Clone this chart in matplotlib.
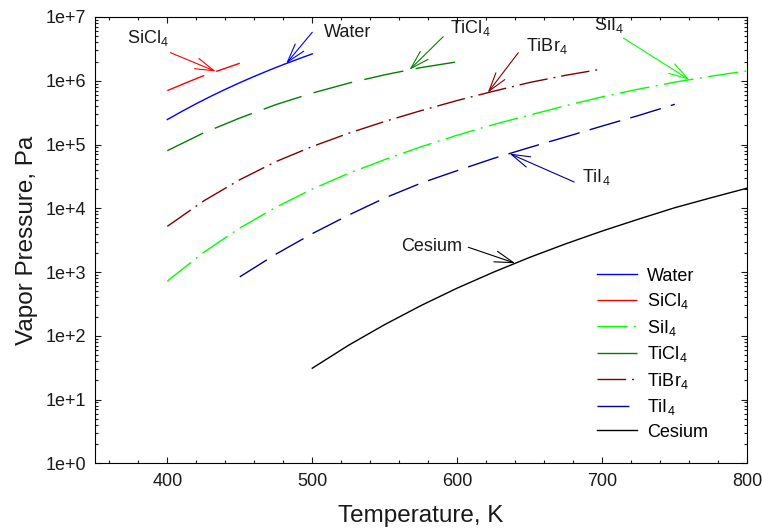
import numpy as np
import matplotlib
matplotlib.use("Agg")
import matplotlib.pyplot as plt
from matplotlib.ticker import MultipleLocator, LogLocator, FuncFormatter, NullFormatter

plt.rcParams['font.family'] = ['Liberation Sans', 'DejaVu Sans']
plt.rcParams['mathtext.fontset'] = 'custom'
plt.rcParams['mathtext.rm'] = 'Liberation Sans'
plt.rcParams['mathtext.default'] = 'regular'

# Vapor pressure curves: temperature in K, pressure in Pa
water_T = [400, 410, 420, 430, 440, 450, 460, 470, 480, 490, 500]
water_P = [2.46e5, 3.30e5, 4.37e5, 5.70e5, 7.33e5, 9.32e5, 1.17e6, 1.455e6,
           1.79e6, 2.18e6, 2.64e6]

sicl4_T = [400, 412.5, 425, 437.5, 450]
sicl4_P = [7.0e5, 9.2e5, 1.2e6, 1.5e6, 1.88e6]

sii4_T = [400, 425, 450, 475, 500, 525, 550, 575, 600, 625, 650, 675, 700,
          725, 750, 775, 800]
sii4_P = [7.2e2, 2.03e3, 4.9e3, 1.04e4, 2.0e4, 3.53e4, 5.8e4, 9.2e4, 1.4e5,
          2.06e5, 2.9e5, 4.07e5, 5.6e5, 7.38e5, 9.5e5, 1.18e6, 1.43e6]

ticl4_T = [400, 425, 450, 475, 500, 525, 550, 575, 600]
ticl4_P = [8.0e4, 1.52e5, 2.6e5, 4.23e5, 6.4e5, 9.16e5, 1.24e6, 1.61e6, 1.98e6]

tibr4_T = [400, 425, 450, 475, 500, 525, 550, 575, 600, 625, 650, 675, 700]
tibr4_P = [5.2e3, 1.3e4, 2.8e4, 5.4e4, 9.3e4, 1.5e5, 2.3e5, 3.4e5, 4.9e5,
           6.85e5, 9.4e5, 1.22e6, 1.53e6]

tii4_T = [450, 475, 500, 525, 550, 575, 600, 625, 650, 675, 700, 725, 750]
tii4_P = [8.4e2, 1.91e3, 4.0e3, 7.8e3, 1.45e4, 2.48e4, 3.9e4, 6.05e4, 9.0e4,
          1.32e5, 1.95e5, 2.85e5, 4.27e5]

cesium_T = [500, 525, 550, 575, 600, 625, 650, 675, 700, 725, 750, 775, 800]
cesium_P = [31, 71, 150, 298, 560, 995, 1.7e3, 2.78e3, 4.4e3, 6.75e3, 1.02e4,
            1.46e4, 2.07e4]

names = ['Water', 'SiCl$_4$', 'SiI$_4$', 'TiCl$_4$', 'TiBr$_4$', 'TiI$_4$', 'Cesium']
temps = [water_T, sicl4_T, sii4_T, ticl4_T, tibr4_T, tii4_T, cesium_T]
pressures = [water_P, sicl4_P, sii4_P, ticl4_P, tibr4_P, tii4_P, cesium_P]

colors = ['#0000ff', '#ff0000', '#00ff00', '#008000', '#800000', '#000090', '#000000']
dash_styles = [None, (28.8, 9.0), (21.6, 4.7, 1.4, 4.7), (28.8, 9.0),
               (20.6, 4.3, 1.4, 4.3), (23.0, 7.5), None]

# Callouts: temperature where the arrow meets each curve,
# arrow tail (T, P) and label anchor (T, P)
callout_T = [482, 433.5, 760, 567, 621, 636, 640]
tail_pos = [(500.0, 10**6.76), (402.2, 10**6.44), (714.6, 10**6.669),
            (590.3, 10**6.691), (642.1, 10**6.44), (680.6, 10**4.412),
            (607.6, 10**3.388)]
text_pos = [(508.1, 10**6.691), (372.2, 10**6.588), (694.3, 10**6.802),
            (595.0, 10**6.744), (647.7, 10**6.467), (685.9, 10**4.412),
            (561.2, 10**3.330)]

fig = plt.figure(figsize=(7.62, 5.29), dpi=100)
ax = fig.add_axes([0.1244, 0.1242, 0.8563, 0.8437])

for name, T, P, c, d in zip(names, temps, pressures, colors, dash_styles):
    kw = {} if d is None else {'dashes': d}
    ax.plot(T, P, color=c, lw=1.0, label=name, **kw)

for T, P, c, t, tail, tp, name in zip(temps, pressures, colors, callout_T,
                                      tail_pos, text_pos, names):
    tip_P = 10 ** np.interp(t, T, np.log10(P))
    ax.annotate('', xy=(t, tip_P), xytext=tail,
                arrowprops=dict(arrowstyle='->,head_length=1.35,head_width=0.4',
                                color=c, lw=0.8, shrinkA=0, shrinkB=0,
                                mutation_scale=10))
    ax.text(tp[0], tp[1], name, fontsize=13, ha='left', va='baseline',
            color='#1a1a1a')

ax.set_xlim(350, 800)
ax.set_yscale('log')
ax.set_ylim(1, 1e7)

ax.xaxis.set_major_locator(MultipleLocator(100))
ax.xaxis.set_minor_locator(MultipleLocator(20))
ax.yaxis.set_major_locator(LogLocator(base=10, numticks=20))
ax.yaxis.set_minor_locator(LogLocator(base=10, subs=np.arange(2, 10), numticks=20))
ax.yaxis.set_major_formatter(FuncFormatter(lambda v, p: f"1e+{int(round(np.log10(v)))}"))
ax.yaxis.set_minor_formatter(NullFormatter())

ax.tick_params(which='both', direction='in', top=True, right=True, width=0.8,
               labelsize=13, colors='#1a1a1a')
ax.tick_params(which='major', length=4)
ax.tick_params(which='minor', length=2.4)
ax.tick_params(axis='x', which='major', pad=7)
ax.tick_params(axis='y', which='major', pad=6)

ax.set_xlabel('Temperature, K', fontsize=17.5, labelpad=11, color='#1a1a1a')
ax.set_ylabel('Vapor Pressure, Pa', fontsize=17.5, labelpad=6, color='#1a1a1a')

ax.legend(loc='upper left', bbox_to_anchor=(0.7697, 0.4385), frameon=False,
          fontsize=13, handlelength=2.21, handletextpad=0.55, labelspacing=0.36,
          borderpad=0, borderaxespad=0)

fig.savefig('out.png', dpi=100)
